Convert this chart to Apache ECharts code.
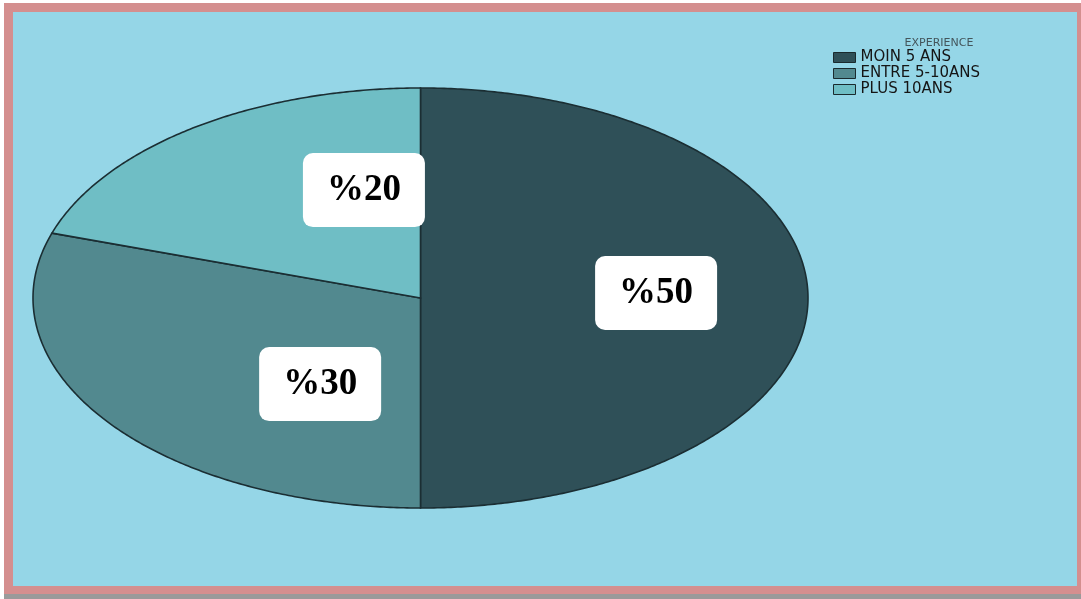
<!DOCTYPE html>
<html>
<head>
<meta charset="utf-8">
<script src="https://cdn.jsdelivr.net/npm/echarts@6/dist/echarts.min.js"></script>
<style>
  html, body { margin: 0; padding: 0; background: #ffffff; }
  #chart { width: 1081px; height: 599px; }
</style>
</head>
<body>
<div id="chart"></div>
<script>
// ---- data ----
const legendTitle = 'EXPERIENCE';
const categories = ['MOIN 5 ANS', 'ENTRE 5-10ANS', 'PLUS 10ANS'];
const values = [50, 30, 20];

// ---- styles ----
const colors = ['#2F5058', '#52898F', '#6FBEC5'];
const edgeColor = '#1B2E33';
// label anchor in ellipse-normalised data space (x: -1..1, y: -1..1)
const labelAnchors = [[0.608, 0.024], [-0.259, -0.41], [-0.146, 0.514]];

const total = values.reduce((a, b) => a + b, 0);
let acc = 0;
const slices = values.map(v => { const s = acc / total; acc += v; return [s, acc / total, v]; });

function makeRender(idx) {
  return function (params, api) {
    const s = api.value(0), e = api.value(1), v = api.value(2);
    const pts = [api.coord([0, 0])];
    const n = Math.max(4, Math.ceil((e - s) * 720));
    for (let i = 0; i <= n; i++) {
      const phi = 2 * Math.PI * (s + (e - s) * i / n);
      pts.push(api.coord([Math.sin(phi), Math.cos(phi)]));
    }
    const lp = api.coord(labelAnchors[idx]);
    return {
      type: 'group',
      children: [
        { type: 'polygon', shape: { points: pts },
          style: { fill: api.visual('color'), stroke: edgeColor, lineWidth: 1.6 } },
        { type: 'text', z2: 10,
          style: { text: '%' + v, x: lp[0], y: lp[1], align: 'center', verticalAlign: 'middle',
                   fontFamily: 'Liberation Serif', fontSize: 37, fontWeight: 'bold', fill: '#000',
                   backgroundColor: '#ffffff', borderRadius: 10, padding: [17, 24], lineHeight: 40 } }
      ]
    };
  };
}

const chart = echarts.init(document.getElementById('chart'), null, { renderer: 'canvas' });
chart.setOption({
  backgroundColor: '#ffffff',
  animation: false,
  color: colors,
  graphic: [
    { type: 'rect', shape: { x: 4, y: 593, width: 1077, height: 6 }, style: { fill: '#9a9a9a' }, z: -10 },
    { type: 'rect', shape: { x: 4, y: 3, width: 1077, height: 591 }, style: { fill: '#D48F8F' }, z: -9 },
    { type: 'rect', shape: { x: 13, y: 12, width: 1064, height: 574 }, style: { fill: '#95D6E7' }, z: -8 }
  ],
  title: {
    text: legendTitle, left: 934, top: 33, textAlign: 'center',
    textStyle: { fontSize: 11, fontWeight: 'normal', color: '#44555b', fontFamily: 'DejaVu Sans' }
  },
  legend: {
    orient: 'vertical', left: 833, top: 50, padding: 0,
    itemWidth: 22, itemHeight: 10, itemGap: 1, icon: 'rect',
    itemStyle: { borderColor: '#1a2a2e', borderWidth: 1 },
    textStyle: { fontSize: 15, lineHeight: 15, color: '#151515', fontFamily: 'DejaVu Sans' },
    data: categories
  },
  grid: { left: 33, right: 273, top: 88, bottom: 91, show: false },
  xAxis: { type: 'value', min: -1, max: 1, show: false },
  yAxis: { type: 'value', min: -1, max: 1, show: false },
  series: categories.map((name, i) => ({
    type: 'custom', name: name, clip: false,
    renderItem: makeRender(i),
    encode: { x: 0, y: 1 },
    data: [slices[i]]
  }))
});
</script>
</body>
</html>
